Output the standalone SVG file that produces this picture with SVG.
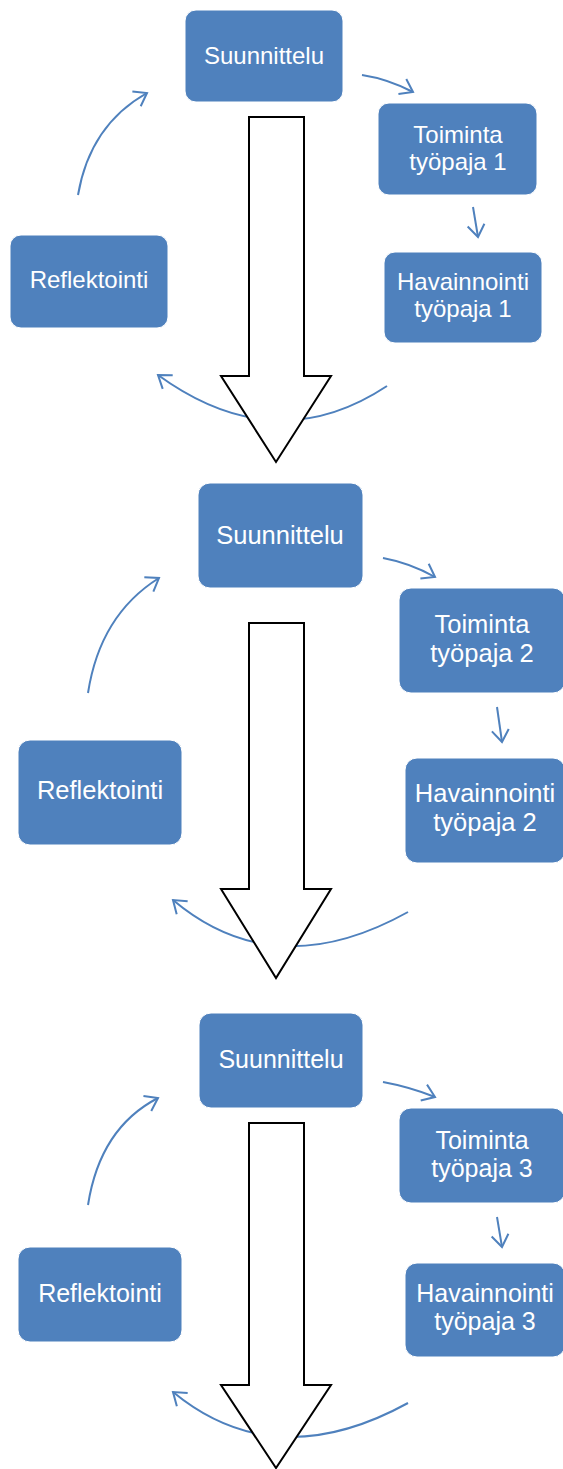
<svg xmlns="http://www.w3.org/2000/svg" width="563" height="1469" viewBox="0 0 563 1469">
<style>
.box{fill:#4F81BD;stroke:#ffffff;stroke-width:1}
.t1{font-family:"Liberation Sans",Arial,sans-serif;font-size:24px;fill:#ffffff;text-anchor:middle}
.t2{font-family:"Liberation Sans",Arial,sans-serif;font-size:25.5px;fill:#ffffff;text-anchor:middle}
.t3{font-family:"Liberation Sans",Arial,sans-serif;font-size:25px;fill:#ffffff;text-anchor:middle}
.con{fill:none;stroke:#4F81BD;stroke-width:2;marker-end:url(#chev)}
.big{fill:#ffffff;stroke:#000000;stroke-width:2;stroke-linejoin:miter}
</style>
<defs>
<marker id="chev" markerUnits="userSpaceOnUse" markerWidth="30" markerHeight="30" refX="15" refY="15" orient="auto" viewBox="0 0 30 30">
<path d="M3,6.5 L15,15 L3,23.5" fill="none" stroke="#4F81BD" stroke-width="2"/>
</marker>
</defs>
<rect width="563" height="1469" fill="#ffffff"/>

<g id="connectors">
<path class="con" d="M78,195 Q90,125 147,93"/>
<path class="con" d="M362,75 Q388,79 413,92"/>
<path class="con" d="M473,207 L478,237"/>
<path class="con" d="M387,386 Q275,460 158,375"/>

<path class="con" d="M88,693 Q100,615 159,578"/>
<path class="con" d="M383,558 Q410,563 435,577"/>
<path class="con" d="M497,707 L502,742"/>
<path class="con" d="M408,912 Q275,986 173,900"/>

<path class="con" d="M88,1205 Q100,1128 158,1098"/>
<path class="con" d="M383,1082 Q410,1087 435,1097"/>
<path class="con" d="M497,1217 L502,1247"/>
<path class="con" d="M408,1403 Q275,1476 173,1392"/>
</g>

<g id="bigarrow1"><polygon class="big" points="249,117 304,117 304,376 331,376 276,462 221,376 249,376"/></g>
<g id="bigarrow2"><polygon class="big" points="249,623 304,623 304,889 331,889 276,978 221,889 249,889"/></g>
<g id="bigarrow3"><polygon class="big" points="249,1123 304,1123 304,1385 331,1385 276,1468 221,1385 249,1385"/></g>

<g id="suunnittelu1"><rect class="box" x="185" y="10" width="158" height="92" rx="11"/><text class="t1" x="264" y="64">Suunnittelu</text></g>
<g id="toiminta1"><rect class="box" x="378" y="103" width="159" height="92" rx="11"/><text class="t1" x="458" y="143"><tspan x="458">Toiminta</tspan><tspan x="458" dy="27">työpaja 1</tspan></text></g>
<g id="havainnointi1"><rect class="box" x="384" y="252" width="158" height="91" rx="11"/><text class="t1" x="463" y="290"><tspan x="463">Havainnointi</tspan><tspan x="463" dy="27">työpaja 1</tspan></text></g>
<g id="reflektointi1"><rect class="box" x="10" y="235" width="158" height="93" rx="11"/><text class="t1" x="89" y="288">Reflektointi</text></g>

<g id="suunnittelu2"><rect class="box" x="198" y="483" width="165" height="105" rx="12"/><text class="t2" x="280" y="544">Suunnittelu</text></g>
<g id="toiminta2"><rect class="box" x="399" y="588" width="166" height="105" rx="12"/><text class="t2" x="482" y="633"><tspan x="482">Toiminta</tspan><tspan x="482" dy="29">työpaja 2</tspan></text></g>
<g id="havainnointi2"><rect class="box" x="405" y="758" width="160" height="105" rx="12"/><text class="t2" x="485" y="802"><tspan x="485">Havainnointi</tspan><tspan x="485" dy="29">työpaja 2</tspan></text></g>
<g id="reflektointi2"><rect class="box" x="18" y="740" width="164" height="105" rx="12"/><text class="t2" x="100" y="799">Reflektointi</text></g>

<g id="suunnittelu3"><rect class="box" x="199" y="1013" width="164" height="95" rx="12"/><text class="t3" x="281" y="1068">Suunnittelu</text></g>
<g id="toiminta3"><rect class="box" x="399" y="1108" width="166" height="95" rx="12"/><text class="t3" x="482" y="1149"><tspan x="482">Toiminta</tspan><tspan x="482" dy="28">työpaja 3</tspan></text></g>
<g id="havainnointi3"><rect class="box" x="405" y="1263" width="160" height="94" rx="12"/><text class="t3" x="485" y="1302"><tspan x="485">Havainnointi</tspan><tspan x="485" dy="28">työpaja 3</tspan></text></g>
<g id="reflektointi3"><rect class="box" x="18" y="1247" width="164" height="95" rx="12"/><text class="t3" x="100" y="1302">Reflektointi</text></g>
</svg>
